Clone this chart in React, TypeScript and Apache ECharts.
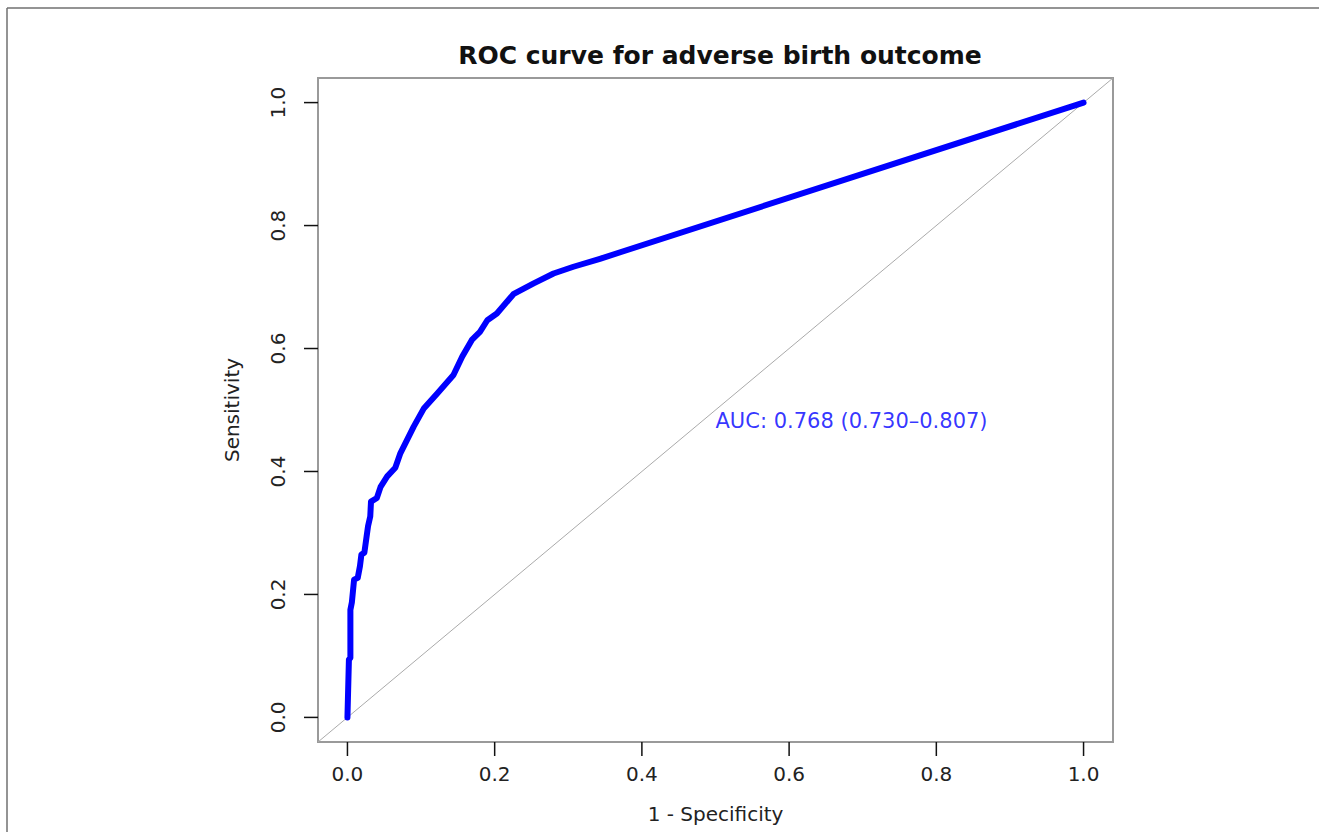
import React, { useEffect, useRef } from "react";
import * as echarts from "echarts";

// ROC curve points: [1 - specificity, sensitivity]
const rocX: number[] = [0, 0.002, 0.004, 0.004, 0.006, 0.009, 0.014, 0.017, 0.019, 0.023, 0.026, 0.028, 0.031, 0.032, 0.04, 0.045, 0.054, 0.065, 0.072, 0.09, 0.104, 0.122, 0.144, 0.156, 0.169, 0.18, 0.19, 0.203, 0.226, 0.253, 0.28, 0.307, 0.343, 1.0];
const rocY: number[] = [0, 0.094, 0.097, 0.175, 0.187, 0.224, 0.227, 0.246, 0.265, 0.268, 0.294, 0.311, 0.327, 0.351, 0.357, 0.375, 0.392, 0.406, 0.43, 0.473, 0.503, 0.527, 0.557, 0.587, 0.614, 0.627, 0.646, 0.657, 0.689, 0.706, 0.722, 0.733, 0.746, 1.0];

const tickValues: number[] = [0, 0.2, 0.4, 0.6, 0.8, 1.0];
const axisMin = -0.04;
const axisMax = 1.04;
const diagonal: number[][] = [[axisMin, axisMin], [axisMax, axisMax]];
const aucText = "AUC: 0.768 (0.730–0.807)";
const aucPos: number[] = [0.5, 0.482];

const titleText = "ROC curve for adverse birth outcome";
const xName = "1 - Specificity";
const yName = "Sensitivity";

const FONT = "DejaVu Sans";
const TICK_LEN = 14;

export default function App() {
  const ref = useRef<HTMLDivElement>(null);
  useEffect(() => {
    if (!ref.current) return;
    const chart = echarts.init(ref.current, null, { renderer: "svg" });
    const makeAxis = (labelMargin: number, rotate: number) => ({
      type: "value" as const,
      min: axisMin,
      max: axisMax,
      nameLocation: "middle" as const,
      nameTextStyle: { fontFamily: FONT, fontSize: 20, color: "#222" },
      axisLine: { show: false, onZero: false },
      splitLine: { show: false },
      axisTick: { show: false },
      axisLabel: {
        customValues: tickValues,
        fontFamily: FONT,
        fontSize: 20,
        color: "#222",
        margin: labelMargin,
        rotate,
        formatter: (v: number) => v.toFixed(1),
      },
    });
    chart.setOption({
      animation: false,
      backgroundColor: "#fff",
      title: {
        text: titleText,
        left: 715,
        top: 38,
        textAlign: "center",
        textStyle: { fontFamily: FONT, fontSize: 25, fontWeight: "bold", color: "#111" },
      },
      grid: {
        left: 318,
        top: 78,
        right: 206,
        bottom: 90,
        show: true,
        borderColor: "#9a9a9a",
        borderWidth: 2,
        backgroundColor: "transparent",
      },
      xAxis: {
        ...makeAxis(22, 0),
        name: xName,
        nameGap: 62,
      },
      yAxis: {
        ...makeAxis(30, 90),
        name: yName,
        nameGap: 76,
        nameRotate: 90,
      },
      graphic: [
        {
          type: "line",
          shape: { x1: 7, y1: 8, x2: 7, y2: 840 },
          style: { stroke: "#707070", lineWidth: 1.5 },
          silent: true,
        },
        {
          type: "line",
          shape: { x1: 7, y1: 8, x2: 1319, y2: 8 },
          style: { stroke: "#707070", lineWidth: 1.5 },
          silent: true,
        },
      ],
      series: [
        {
          type: "line",
          data: diagonal,
          symbol: "none",
          lineStyle: { color: "#aaaaaa", width: 1 },
          silent: true,
          z: 1,
        },
        {
          type: "line",
          data: rocX.map((x, i) => [x, rocY[i]]),
          symbol: "none",
          lineStyle: { color: "#0000ff", width: 6, join: "round", cap: "round" },
          silent: true,
          z: 3,
        },
        {
          type: "scatter",
          data: [aucPos],
          symbolSize: 0,
          silent: true,
          label: {
            show: true,
            position: "right",
            distance: 0,
            formatter: aucText,
            fontFamily: FONT,
            fontSize: 21,
            color: "#0000ff",
          },
          z: 4,
        },
        {
          // x-axis tick marks, placed through the axis scale
          type: "custom",
          silent: true,
          clip: false,
          data: tickValues.map((v) => [v, axisMin]),
          renderItem: (params: any, api: any) => {
            const p = api.coord([api.value(0), api.value(1)]);
            return {
              type: "line",
              shape: { x1: p[0], y1: p[1], x2: p[0], y2: p[1] + TICK_LEN },
              style: { stroke: "#111", lineWidth: 1.5 },
            };
          },
          z: 5,
        },
        {
          // y-axis tick marks, placed through the axis scale
          type: "custom",
          silent: true,
          clip: false,
          data: tickValues.map((v) => [axisMin, v]),
          renderItem: (params: any, api: any) => {
            const p = api.coord([api.value(0), api.value(1)]);
            return {
              type: "line",
              shape: { x1: p[0], y1: p[1], x2: p[0] - TICK_LEN, y2: p[1] },
              style: { stroke: "#111", lineWidth: 1.5 },
            };
          },
          z: 5,
        },
      ],
    });
    return () => chart.dispose();
  }, []);
  return (
    <div
      ref={ref}
      style={{ position: "fixed", left: 0, top: 0, width: 1319, height: 832 }}
    />
  );
}
